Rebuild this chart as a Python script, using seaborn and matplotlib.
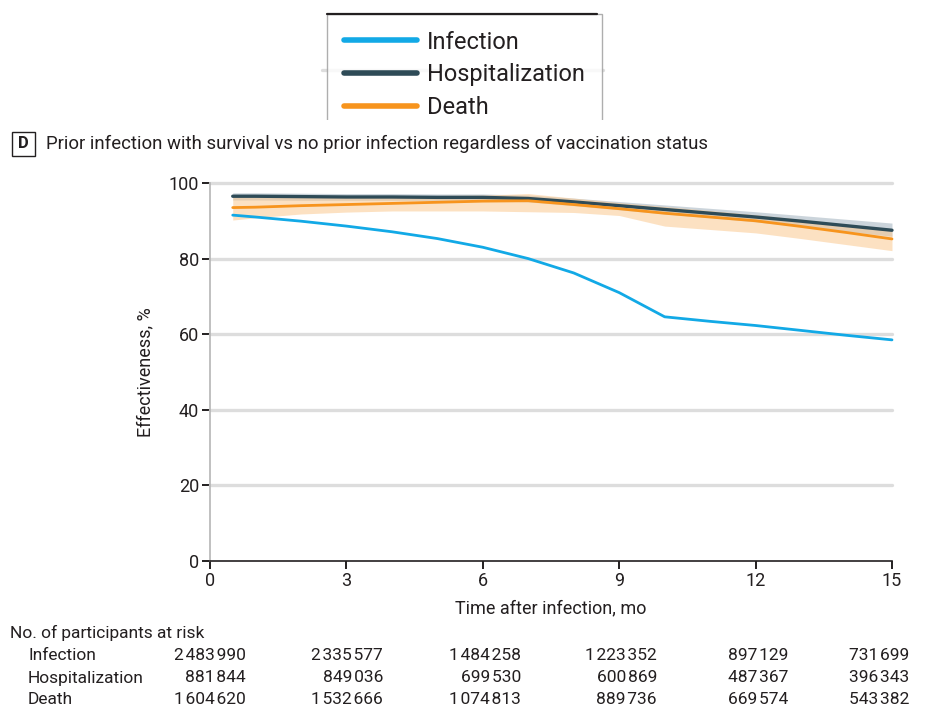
import matplotlib
matplotlib.use("Agg")
import matplotlib.pyplot as plt
from matplotlib.lines import Line2D
from matplotlib.patches import Rectangle
import seaborn as sns
import pandas as pd

# ---- data ----
months = [0.5, 1, 2, 3, 4, 5, 6, 7, 8, 9, 10, 11, 12, 13, 14, 15]

infection = [91.5, 91.0, 89.9, 88.6, 87.1, 85.3, 83.0, 80.0, 76.2, 71.0, 64.6, 63.4, 62.3, 61.0, 59.7, 58.5]

hosp = [96.5, 96.5, 96.4, 96.3, 96.3, 96.2, 96.2, 95.9, 95.0, 94.0, 93.0, 92.0, 91.0, 89.9, 88.7, 87.5]
hosp_lo = [95.5, 95.5, 95.4, 95.4, 95.4, 95.4, 95.4, 95.0, 94.0, 92.9, 91.8, 90.8, 89.7, 88.5, 87.2, 85.9]
hosp_hi = [97.4, 97.4, 97.3, 97.2, 97.2, 97.1, 97.1, 96.8, 96.0, 95.1, 94.2, 93.3, 92.4, 91.4, 90.4, 89.4]

death = [93.5, 93.6, 94.0, 94.3, 94.6, 94.9, 95.2, 95.3, 94.3, 93.2, 92.0, 91.0, 90.0, 88.5, 86.9, 85.2]
death_lo = [90.2, 90.8, 91.8, 92.3, 92.6, 92.6, 92.6, 92.4, 92.2, 91.4, 88.6, 87.7, 86.8, 85.3, 83.7, 82.1]
death_hi = [96.6, 96.6, 96.5, 96.5, 96.6, 96.7, 96.8, 97.2, 96.0, 94.8, 93.8, 92.7, 91.6, 90.4, 89.1, 87.8]

x_ticks = [0, 3, 6, 9, 12, 15]
y_ticks = [0, 20, 40, 60, 80, 100]

risk_rows = ["Infection", "Hospitalization", "Death"]
risk_infection = [2483990, 2335577, 1484258, 1223352, 897129, 731699]
risk_hosp = [881844, 849036, 699530, 600869, 487367, 396343]
risk_death = [1604620, 1532666, 1074813, 889736, 669574, 543382]

C_INF = "#12a9e6"
C_HOSP = "#2e4b57"
C_DEATH = "#f7941d"
TXT = "#231f20"

sns.set_theme(style="white")
plt.rcParams["font.family"] = ["Roboto", "DejaVu Sans"]

fig = plt.figure(figsize=(9.27, 7.09), dpi=100)
ax = fig.add_axes([210 / 927, 1 - 561 / 709, 682 / 927, 378 / 709])

df = pd.DataFrame({"month": months, "Infection": infection,
                   "Hospitalization": hosp, "Death": death})

ax.fill_between(months, hosp_lo, hosp_hi, color="#bfcad2", alpha=0.8, lw=0, zorder=2)
ax.fill_between(months, death_lo, death_hi, color="#fbc990", alpha=0.55, lw=0, zorder=3)
sns.lineplot(data=df, x="month", y="Hospitalization", color=C_HOSP, lw=2.4, ax=ax, zorder=4)
sns.lineplot(data=df, x="month", y="Death", color=C_DEATH, lw=2.0, ax=ax, zorder=5)
sns.lineplot(data=df, x="month", y="Infection", color=C_INF, lw=2.0, ax=ax, zorder=6)

ax.set_xlim(0, 15)
ax.set_ylim(0, 100)
ax.set_xticks(x_ticks)
ax.set_yticks(y_ticks)
for ln in ax.lines:
    ln.set_clip_on(False)

# horizontal grid (skip 0)
for yv in y_ticks[1:]:
    ax.axhline(yv, color="#dddddd", lw=2.4, zorder=1, clip_on=False)

for s in ["top", "right"]:
    ax.spines[s].set_visible(False)
ax.spines["left"].set_color("#b5b5b5")
ax.spines["left"].set_linewidth(1.2)
ax.spines["bottom"].set_color(TXT)
ax.spines["bottom"].set_linewidth(1.2)
ax.tick_params(axis="both", direction="out", length=6, width=1.4, color=TXT,
               labelsize=13, labelcolor=TXT, pad=2, left=True, bottom=True)
ax.set_xlabel("Time after infection, mo", fontsize=13, color=TXT, labelpad=7)
ax.set_ylabel("Effectiveness, %", fontsize=13, color=TXT, labelpad=10)

# panel title
fig.add_artist(Rectangle((12 / 927, 1 - 156 / 709), 23 / 927, 24 / 709,
                         transform=fig.transFigure, fill=False, ec=TXT, lw=1.0))
fig.text(23.5 / 927, 1 - 144 / 709, "D", ha="center", va="center",
         fontsize=12, fontweight="bold", color=TXT)
fig.text(46 / 927, 1 - 144 / 709,
         "Prior infection with survival vs no prior infection regardless of vaccination status",
         ha="left", va="center", fontsize=13.4, color=TXT)

# gridline fragment from panel above, peeking behind legend
fig.add_artist(Line2D([322 / 927, 603 / 927], [1 - 70 / 709] * 2,
                      transform=fig.transFigure, color="#dddddd", lw=2.4, zorder=0))

handles = [Line2D([], [], color=C_INF, lw=4),
           Line2D([], [], color=C_HOSP, lw=4),
           Line2D([], [], color=C_DEATH, lw=4)]
leg = fig.legend(handles, ["Infection", "Hospitalization", "Death"],
                 loc="upper left", bbox_to_anchor=(327 / 927, 1 - 14 / 709),
                 fontsize=17, frameon=True, fancybox=False, handlelength=3.1,
                 handletextpad=0.45, labelspacing=0.42, borderpad=0.7,
                 borderaxespad=0)
leg.get_frame().set_edgecolor("#9a9a9a")
leg.get_frame().set_linewidth(1.0)
for t in leg.get_texts():
    t.set_color(TXT)
leg.set_zorder(2)
# the legend is cut at the bottom in the reference
fig.add_artist(Rectangle((300 / 927, 1 - 160 / 709), 330 / 927, 40 / 709,
                         transform=fig.transFigure, fc="white", ec="none", zorder=3))
fig.add_artist(Line2D([327 / 927, 597 / 927], [1 - 14 / 709] * 2,
                      transform=fig.transFigure, color=TXT, lw=1.6, zorder=4))

# at-risk table
def fmt(n):
    s = f"{n:,}"
    return s.replace(",", "\u200a")

fig.text(10 / 927, 1 - 633 / 709, "No. of participants at risk", ha="left",
         va="center", fontsize=12.5, color=TXT)
col_right = [246, 383, 521, 657, 788, 909]
row_y = [656, 678, 700]
for lab, vals, yy in zip(risk_rows, [risk_infection, risk_hosp, risk_death], row_y):
    fig.text(28 / 927, 1 - yy / 709, lab, ha="left", va="center", fontsize=12.5, color=TXT)
    for xr, v in zip(col_right, vals):
        fig.text(xr / 927, 1 - yy / 709, fmt(v), ha="right", va="center",
                 fontsize=12.5, color=TXT)

fig.savefig("out.png", dpi=100, facecolor="white")
